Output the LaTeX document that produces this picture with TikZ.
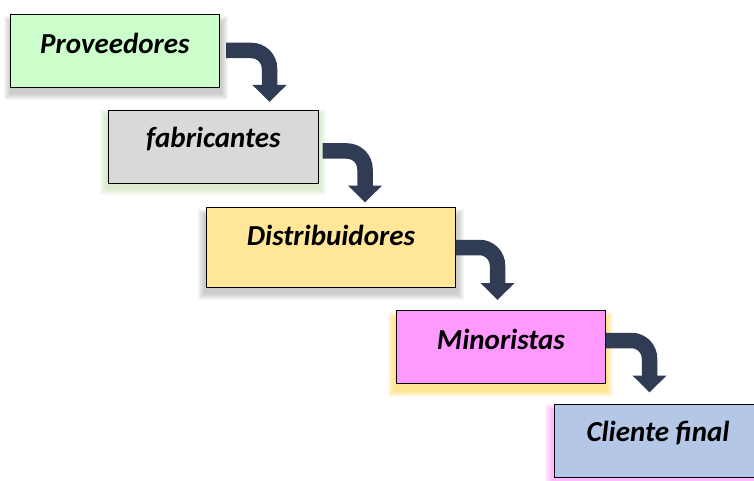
\documentclass[tikz,border=0pt]{standalone}
\usepackage{fontspec}
\setmainfont{Carlito}
\usetikzlibrary{arrows.meta,calc}
\definecolor{arrowfill}{HTML}{2F3C54}
\definecolor{boxgreen}{HTML}{CCFFCC}
\definecolor{boxgrey}{HTML}{D9D9D9}
\definecolor{boxyellow}{HTML}{FFE699}
\definecolor{boxpink}{HTML}{FF99FF}
\definecolor{boxblue}{HTML}{B4C7E7}
\definecolor{shgrey}{HTML}{8C8C8C}
\definecolor{shgreen}{HTML}{A9D18E}
\definecolor{shyellow}{HTML}{FFC000}
\definecolor{shpink}{HTML}{FF66FF}
\newcommand\softshadow[3]{%
  \foreach \i in {0,...,6}{%
    \fill[#3,opacity=0.08] ($(#1)+(-\i,-\i)$) rectangle ($(#2)+(\i,\i)$);
  }%
}
\tikzset{
  stagebox/.style={draw=black,line width=0.8pt,anchor=north west,inner sep=0pt},
  stagetext/.style={font=\bfseries\itshape\fontsize{29}{33}\selectfont,inner sep=0pt},
  flowarrow/.style={draw=arrowfill,line width=15.5pt,rounded corners=18pt,
    -{Triangle[width=33pt,length=17pt]},color=arrowfill}
}
\begin{document}
\begin{tikzpicture}[x=1pt,y=-1pt]
\useasboundingbox (0,0) rectangle (754,481);
\clip (0,0) rectangle (754,481);
% shadows
\softshadow{10,22}{222,94}{shgrey}
\softshadow{106,115}{320,189}{shgreen}
\softshadow{204,215}{458,294}{shgrey}
\softshadow{394,318}{607,391}{shyellow}
\softshadow{551,410}{775,481}{shpink}
% boxes
\node[stagebox,fill=boxgreen,minimum width=209pt,minimum height=73pt] (p) at (10,14) {};
\node[stagebox,fill=boxgrey,minimum width=210pt,minimum height=73pt] (f) at (108,110) {};
\node[stagebox,fill=boxyellow,minimum width=249pt,minimum height=80pt] (d) at (206,207) {};
\node[stagebox,fill=boxpink,minimum width=209pt,minimum height=73pt] (m) at (396,310) {};
\node[stagebox,fill=boxblue,minimum width=220pt,minimum height=73pt] (c) at (554,404) {};
% texts
\node[stagetext] (pt) at ([yshift=-29pt]p.north) {Proveedores};
\node[stagetext] (ft) at ([yshift=-29pt]f.north) {fabricantes};
\node[stagetext] (dt) at ([yshift=-28pt]d.north) {Distribuidores};
\node[stagetext] (mt) at ([yshift=-29pt]m.north) {Minoristas};
\node[stagetext] (ct) at (658,433) {Cliente final};
% arrow anchors
\coordinate (a1s) at (226,50.5);  \coordinate (a1e) at (269.5,102);
\coordinate (a2s) at (322.5,151); \coordinate (a2e) at (365,202.5);
\coordinate (a3s) at (455.5,247.5); \coordinate (a3e) at (497.5,300);
\coordinate (a4s) at (606,340.5); \coordinate (a4e) at (649.5,392.5);
\draw[flowarrow] (a1s) -| (a1e);
\draw[flowarrow] (a2s) -| (a2e);
\draw[flowarrow] (a3s) -| (a3e);
\draw[flowarrow] (a4s) -| (a4e);
\end{tikzpicture}
\end{document}
